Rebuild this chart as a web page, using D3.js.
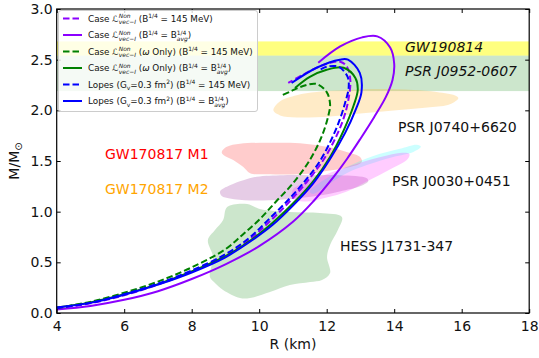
<!DOCTYPE html>
<html>
<head>
<meta charset="utf-8">
<script src="https://cdn.jsdelivr.net/npm/d3@7"></script>
<style>
  body { margin: 0; background: #fff; }
  svg { display: block; }
  text { font-family: "DejaVu Sans", sans-serif; white-space: pre; }
</style>
</head>
<body>
<svg id="chart" width="539" height="358"></svg>
<script>
//----------------------------------------------------------- DATA  [R (km), M/Msun]
var caseVecB145 = [[4.0,0.045],[5.0,0.095],[6.0,0.175],[7.0,0.28],[8.0,0.41],[9.0,0.565],[9.7,0.72],[10.3,0.9],[10.9,1.1],[11.45,1.31],[11.9,1.51],[12.25,1.72],[12.5,1.92],[12.64,2.1],[12.7,2.3],[12.6,2.43],[12.4,2.48],[12.0,2.46],[11.4,2.37],[10.86,2.27]];
var caseVecBavg = [[4.0,0.035],[5.0,0.07],[6.0,0.13],[7.0,0.215],[8.0,0.335],[9.0,0.48],[10.0,0.66],[11.0,0.9],[11.6,1.1],[12.2,1.34],[12.6,1.52],[13.0,1.72],[13.4,1.93],[13.75,2.13],[13.95,2.3],[14.0,2.46],[13.88,2.62],[13.5,2.73],[13.05,2.72],[12.4,2.63],[11.75,2.47]];
var omegaB145   = [[4.0,0.05],[5.0,0.11],[6.0,0.2],[7.0,0.31],[8.0,0.45],[9.0,0.63],[9.5,0.77],[10.0,0.92],[10.5,1.1],[11.0,1.28],[11.5,1.51],[11.85,1.74],[12.05,1.95],[12.1,2.06],[12.0,2.18],[11.7,2.26],[11.3,2.24],[10.95,2.19],[10.62,2.14]];
var omegaBavg   = [[4.0,0.055],[5.0,0.105],[6.0,0.185],[7.0,0.285],[8.0,0.41],[9.0,0.56],[9.8,0.73],[10.4,0.89],[11.0,1.08],[11.6,1.3],[12.1,1.54],[12.5,1.8],[12.8,2.05],[12.92,2.2],[12.85,2.32],[12.5,2.42],[12.0,2.4],[11.5,2.33],[11.06,2.22]];
var lopesB145   = [[4.0,0.05],[5.0,0.1],[6.0,0.185],[7.0,0.29],[8.0,0.42],[9.0,0.58],[9.7,0.74],[10.3,0.93],[10.9,1.13],[11.4,1.32],[11.8,1.5],[12.15,1.72],[12.4,1.92],[12.55,2.08],[12.65,2.22],[12.62,2.33],[12.35,2.43],[12.0,2.43],[11.8,2.4]];
var lopesBavg   = [[4.0,0.055],[5.0,0.1],[6.0,0.18],[7.0,0.28],[8.0,0.4],[9.0,0.55],[9.8,0.72],[10.4,0.87],[11.0,1.06],[11.6,1.28],[12.1,1.52],[12.55,1.78],[12.85,2.0],[13.03,2.18],[12.98,2.37],[12.63,2.5],[12.39,2.5],[11.7,2.42],[10.96,2.27]];

// observational constraints (mass bands and contours)
var gw190814Band = [2.54, 2.68];
var psrJ0952Band = [2.19, 2.54];
var psrJ0740 = [[10.42,2.0],[10.62,2.09],[11.11,2.15],[11.7,2.18],[12.59,2.2],[13.58,2.21],[14.57,2.2],[15.26,2.18],[15.85,2.14],[15.9,2.12],[15.65,2.06],[15.06,2.03],[14.07,2.0],[13.08,1.97],[12.1,1.94],[11.11,1.93],[10.62,1.95]];
var gw170817M1 = [[8.89,1.59],[9.04,1.64],[9.43,1.67],[10.22,1.68],[11.21,1.675],[12.0,1.64],[12.59,1.59],[12.99,1.54],[13.04,1.49],[12.69,1.44],[12.2,1.41],[11.7,1.385],[11.21,1.37],[10.22,1.37],[9.73,1.38],[9.53,1.44],[9.23,1.51],[8.94,1.56]];
var gw170817M2 = [[8.84,1.2],[9.13,1.26],[9.53,1.31],[9.93,1.345],[10.71,1.36],[11.5,1.36],[12.39,1.36],[13.19,1.33],[13.23,1.3],[12.99,1.25],[12.39,1.2],[11.7,1.155],[10.71,1.12],[9.73,1.11],[9.13,1.13],[8.89,1.155]];
var psrJ0030Riley = [[11.5,1.2],[12.0,1.33],[12.59,1.44],[13.38,1.55],[14.17,1.62],[14.67,1.66],[14.79,1.64],[14.57,1.59],[13.97,1.54],[13.19,1.46],[12.59,1.38],[12.0,1.26],[11.6,1.175]];
var psrJ0030Miller = [[11.0,1.22],[11.5,1.3],[12.0,1.37],[12.69,1.45],[13.48,1.53],[14.17,1.58],[14.45,1.57],[14.4,1.52],[13.9,1.42],[13.2,1.3],[12.6,1.2],[12.0,1.14],[11.4,1.1],[11.0,1.13]];
var hessJ1731 = [[9.05,1.046],[9.64,1.076],[10.02,1.027],[10.91,0.997],[11.8,0.987],[12.45,0.948],[12.33,0.819],[12.1,0.671],[12.01,0.553],[12.1,0.395],[11.86,0.326],[11.51,0.306],[10.91,0.276],[10.32,0.207],[9.73,0.148],[9.43,0.148],[8.93,0.227],[8.69,0.296],[8.54,0.355],[8.63,0.553],[8.48,0.721],[8.69,0.819],[8.93,0.918]];

var xTicks = [4,6,8,10,12,14,16,18];
var yTicks = [0,0.5,1,1.5,2,2.5,3];

//----------------------------------------------------------- SETUP
var svg = d3.select("#chart");
var L = 56.7, R = 529.2, T = 9, B = 313;

var x = d3.scaleLinear().domain([4,18]).range([L,R]);
var y = d3.scaleLinear().domain([0,3]).range([B,T]);

svg.append("defs").append("clipPath").attr("id","plotclip")
	.append("rect").attr("x",L).attr("y",T).attr("width",R-L).attr("height",B-T);

var plot = svg.append("g").attr("clip-path","url(#plotclip)");

// bands
plot.append("rect").attr("x",L).attr("width",R-L)
	.attr("y",y(gw190814Band[1])).attr("height",y(gw190814Band[0])-y(gw190814Band[1]))
	.attr("fill","yellow").attr("fill-opacity",0.5);
plot.append("rect").attr("x",L).attr("width",R-L)
	.attr("y",y(psrJ0952Band[1])).attr("height",y(psrJ0952Band[0])-y(psrJ0952Band[1]))
	.attr("fill","green").attr("fill-opacity",0.2);

// contours
var blob = d3.line().x(d=>x(d[0])).y(d=>y(d[1])).curve(d3.curveCatmullRomClosed.alpha(0.5));
var regions = [
	{d:psrJ0740, c:"orange", o:0.22},
	{d:gw170817M1, c:"red", o:0.2},
	{d:gw170817M2, c:"purple", o:0.2},
	{d:hessJ1731, c:"green", o:0.2},
	{d:psrJ0030Riley, c:"cyan", o:0.2},
	{d:psrJ0030Miller, c:"magenta", o:0.2}
];
plot.selectAll("path.region").data(regions).enter()
	.append("path").attr("class","region")
	.attr("d",d=>blob(d.d))
	.attr("fill",d=>d.c).attr("fill-opacity",d=>d.o)
	.attr("stroke","none");

// curves
var curve = d3.line().x(d=>x(d[0])).y(d=>y(d[1])).curve(d3.curveCatmullRom.alpha(0.5));
var series = [
	{d:caseVecB145, c:"#8b00ff", dash:"6.5,3"},
	{d:caseVecBavg, c:"#8b00ff", dash:null},
	{d:omegaB145,   c:"green",   dash:"6.5,3"},
	{d:omegaBavg,   c:"green",   dash:null},
	{d:lopesB145,   c:"blue",    dash:"6.5,3"},
	{d:lopesBavg,   c:"blue",    dash:null}
];
plot.selectAll("path.eos").data(series).enter()
	.append("path").attr("class","eos")
	.attr("d",d=>curve(d.d))
	.attr("fill","none")
	.attr("stroke",d=>d.c)
	.attr("stroke-width",2)
	.attr("stroke-dasharray",d=>d.dash);

//----------------------------------------------------------- ANNOTATIONS
var notes = [
	{t:"GW190814", x:405, y:52, c:"#111", it:true},
	{t:"PSR J0952-0607", x:405, y:76, c:"#111", it:true},
	{t:"PSR J0740+6620", x:398, y:132, c:"#111", it:false},
	{t:"PSR J0030+0451", x:392, y:186, c:"#111", it:false},
	{t:"HESS J1731-347", x:340, y:251, c:"#111", it:false},
	{t:"GW170817 M1", x:105, y:159, c:"red", it:false},
	{t:"GW170817 M2", x:105, y:194, c:"orange", it:false}
];
svg.selectAll("text.note").data(notes).enter()
	.append("text").attr("class","note")
	.attr("x",d=>d.x).attr("y",d=>d.y)
	.attr("font-size",14)
	.attr("font-style",d=>d.it?"italic":"normal")
	.attr("fill",d=>d.c)
	.text(d=>d.t);

//----------------------------------------------------------- AXES
var gx = svg.append("g").attr("transform","translate(0,"+B+")")
	.call(d3.axisBottom(x).tickValues(xTicks).tickSize(-4).tickPadding(8).tickFormat(d3.format("d")));
var gxt = svg.append("g").attr("transform","translate(0,"+T+")")
	.call(d3.axisTop(x).tickValues(xTicks).tickSize(-4).tickFormat(""));
var gy = svg.append("g").attr("transform","translate("+L+",0)")
	.call(d3.axisLeft(y).tickValues(yTicks).tickSize(-4).tickPadding(4).tickFormat(d3.format(".1f")));
var gyr = svg.append("g").attr("transform","translate("+R+",0)")
	.call(d3.axisRight(y).tickValues(yTicks).tickSize(-4).tickFormat(""));
[gx,gxt,gy,gyr].forEach(function(g){
	g.select(".domain").remove();
	g.selectAll(".tick line").attr("stroke","#000").attr("stroke-width",1);
	g.selectAll(".tick text").attr("font-size",14).attr("fill","#111")
		.attr("font-family","DejaVu Sans, sans-serif");
});
svg.append("rect").attr("x",L).attr("y",T).attr("width",R-L).attr("height",B-T)
	.attr("fill","none").attr("stroke","#000").attr("stroke-width",1.2);

svg.append("text").attr("x",(L+R)/2).attr("y",349).attr("text-anchor","middle")
	.attr("font-size",14).attr("fill","#111").text("R (km)");
var yl = svg.append("text").attr("transform","translate(19,"+((T+B)/2)+") rotate(-90)")
	.attr("text-anchor","middle").attr("font-size",14).attr("fill","#111");
yl.append("tspan").text("M/M");
yl.append("tspan").attr("font-size",10).attr("dy",3).text("\u2299");

//----------------------------------------------------------- LEGEND
// pieces: [text, kind]  kind: n normal, i italic, sup, sub, st (stacked sup/sub)
function richText(g, x0, y0, parts, fs) {
	var cx = x0;
	parts.forEach(function(p){
		var kind = p[1];
		if (kind==="st") {
			var a = g.append("text").attr("x",cx).attr("y",y0-fs*0.42).attr("font-size",fs*0.68)
				.attr("font-style","italic").text(p[0][0]);
			var b = g.append("text").attr("x",cx).attr("y",y0+fs*0.3).attr("font-size",fs*0.68)
				.attr("font-style","italic").text(p[0][1]);
			if (p[0][0]==="1/4") a.attr("font-style","normal");
			cx += Math.max(a.node().getComputedTextLength(), b.node().getComputedTextLength());
		} else {
			var t = g.append("text").attr("x",cx).attr("font-size",fs).text(p[0]);
			if (kind==="sup") t.attr("y",y0-fs*0.42).attr("font-size",fs*0.68);
			else if (kind==="sub") t.attr("y",y0+fs*0.28).attr("font-size",fs*0.68);
			else t.attr("y",y0);
			if (kind==="i") t.attr("font-style","italic");
			cx += t.node().getComputedTextLength();
		}
	});
}

var lagr = [["Case ","n"],["\u2112","i"],[["Non","vec\u2212I"],"st"]];
var lopes = [["Lopes (G","n"],["v","sub"],["=0.3 fm","n"],["2","sup"],[") (B","n"],["1/4","sup"]];
var b145 = [[" = 145 MeV)","n"]];
var bavg = [[" = B","n"],[["1/4","avg"],"st"],[")","n"]];
var legendItems = [
	{c:"#8b00ff", dash:"6.5,3", parts:lagr.concat([[" (B","n"],["1/4","sup"]],b145)},
	{c:"#8b00ff", dash:null,    parts:lagr.concat([[" (B","n"],["1/4","sup"]],bavg)},
	{c:"green",   dash:"6.5,3", parts:lagr.concat([[" (","n"],["\u03c9","i"],[" Only) (B","n"],["1/4","sup"]],b145)},
	{c:"green",   dash:null,    parts:lagr.concat([[" (","n"],["\u03c9","i"],[" Only) (B","n"],["1/4","sup"]],bavg)},
	{c:"blue",    dash:"6.5,3", parts:lopes.concat(b145)},
	{c:"blue",    dash:null,    parts:lopes.concat(bavg)}
];

var leg = svg.append("g");
leg.append("rect").attr("x",58.5).attr("y",10.5).attr("width",199).attr("height",101).attr("rx",2.5)
	.attr("fill","#fff").attr("fill-opacity",0.8).attr("stroke","#cccccc").attr("stroke-width",1);
legendItems.forEach(function(it,i){
	var cy = 18.5 + i*16.5;
	leg.append("line").attr("x1",63).attr("x2",82).attr("y1",cy).attr("y2",cy)
		.attr("stroke",it.c).attr("stroke-width",2).attr("stroke-dasharray",it.dash);
	var g = leg.append("g").attr("fill","#111");
	richText(g, 88, cy+3.2, it.parts, 8.8);
});
</script>
</body>
</html>
